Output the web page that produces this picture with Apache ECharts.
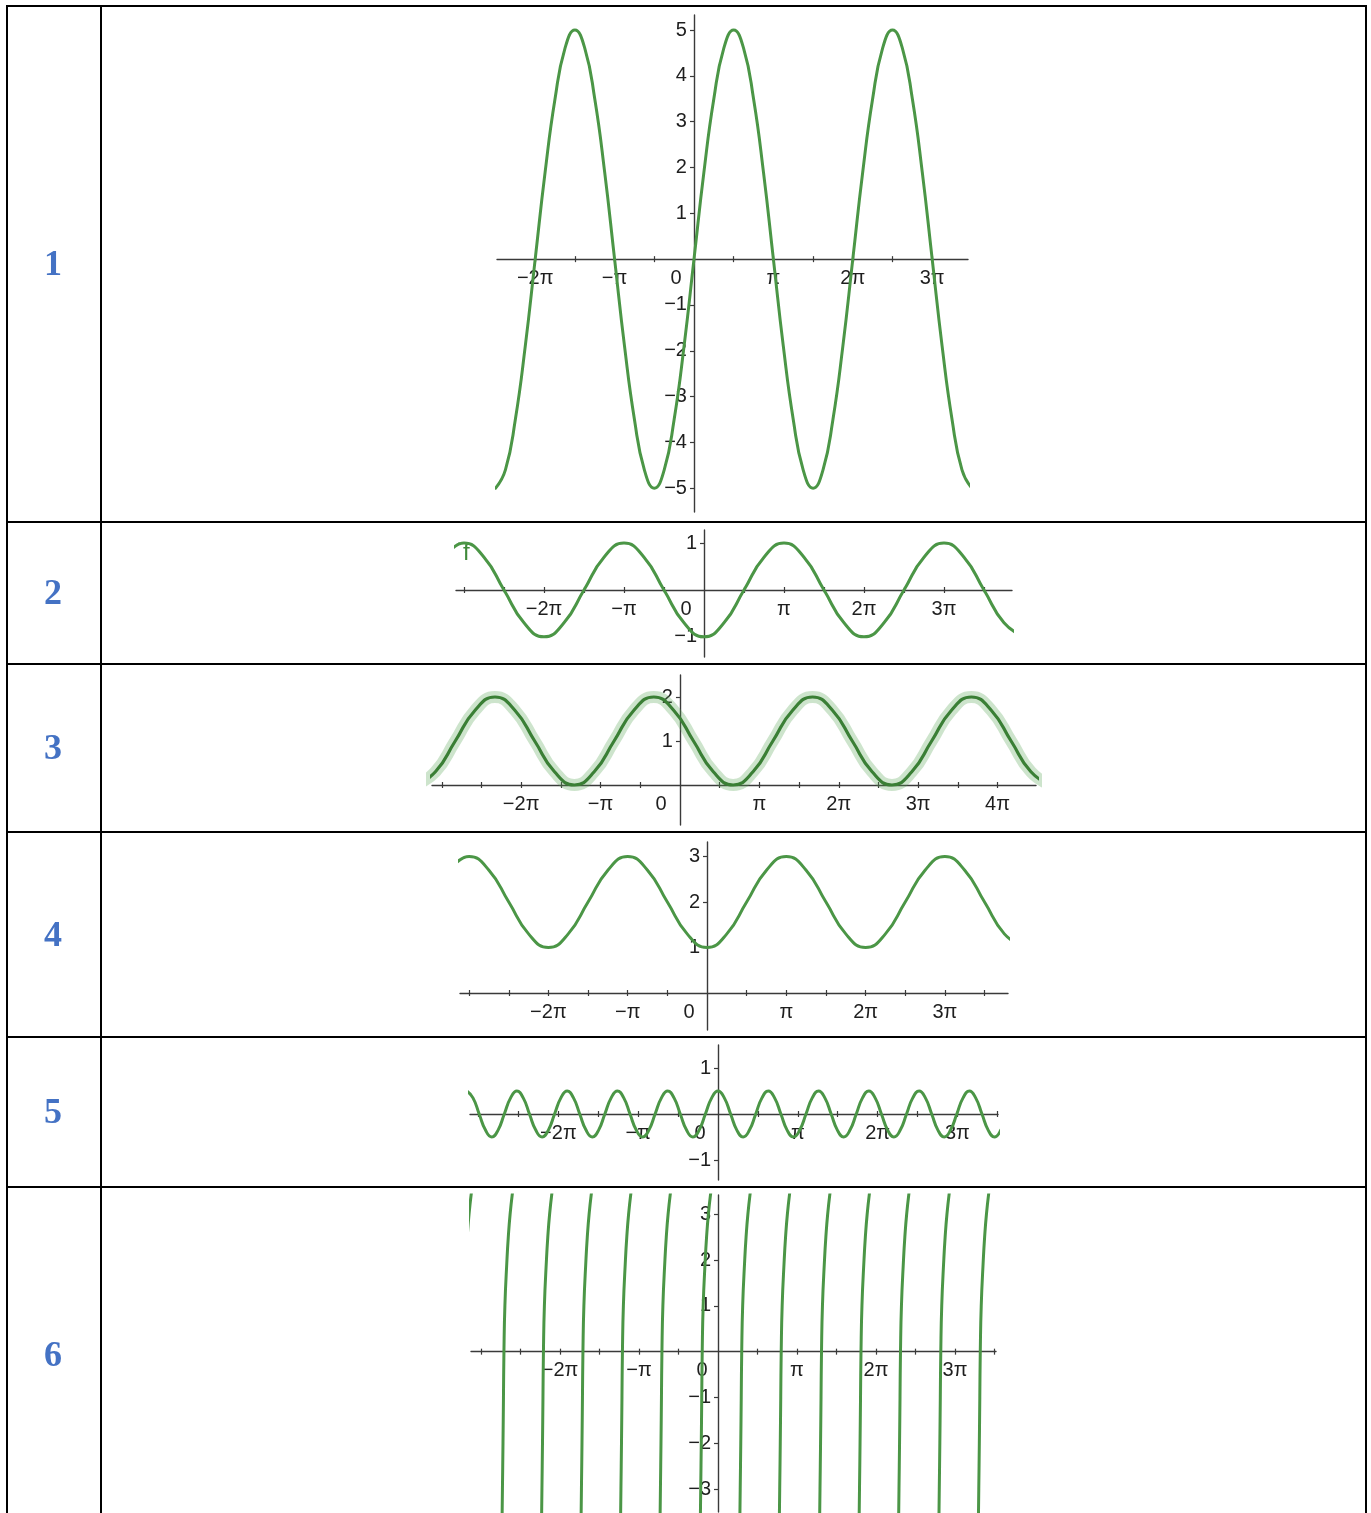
<!DOCTYPE html>
<html><head><meta charset="utf-8">
<script src="https://cdn.jsdelivr.net/npm/echarts@6/dist/echarts.min.js"></script>
<style>html,body{margin:0;padding:0;background:#fff}#c{width:1371px;height:1513px}</style>
</head><body><div id="c"></div>
<script>
// ---- DATA (x in units of π) ----
const rowNumbers = ['1','2','3','4','5','6'];

// Row 1: amplitude 5 wave
const row1X = [-2.5,-2.375,-2.25,-2.125,-2,-1.875,-1.75,-1.625,-1.5,-1.375,-1.25,-1.125,-1,-0.875,-0.75,-0.625,-0.5,-0.375,-0.25,-0.125,0,0.125,0.25,0.375,0.5,0.625,0.75,0.875,1,1.125,1.25,1.375,1.5,1.625,1.75,1.875,2,2.125,2.25,2.375,2.5,2.625,2.75,2.875,3,3.125,3.25,3.375,3.5];
const row1Y = [-5,-4.6,-3.5,-1.9,0,1.9,3.5,4.6,5,4.6,3.5,1.9,0,-1.9,-3.5,-4.6,-5,-4.6,-3.5,-1.9,0,1.9,3.5,4.6,5,4.6,3.5,1.9,0,-1.9,-3.5,-4.6,-5,-4.6,-3.5,-1.9,0,1.9,3.5,4.6,5,4.6,3.5,1.9,0,-1.9,-3.5,-4.6,-5];

// Row 2: wave between -1 and 1, trough at 0
const row2X = [-3.25,-3,-2.75,-2.5,-2.25,-2,-1.75,-1.5,-1.25,-1,-0.75,-0.5,-0.25,0,0.25,0.5,0.75,1,1.25,1.5,1.75,2,2.25,2.5,2.75,3,3.25,3.5,3.75,4];
const row2Y = [0.7,1,0.7,0,-0.7,-1,-0.7,0,0.7,1,0.7,0,-0.7,-1,-0.7,0,0.7,1,0.7,0,-0.7,-1,-0.7,0,0.7,1,0.7,0,-0.7,-1];

// Row 3: wave between 0 and 2, peak near -π/3
const row3X = [-3.33,-3.08,-2.83,-2.58,-2.33,-2.08,-1.83,-1.58,-1.33,-1.08,-0.83,-0.58,-0.33,-0.08,0.17,0.42,0.67,0.92,1.17,1.42,1.67,1.92,2.17,2.42,2.67,2.92,3.17,3.42,3.67,3.92,4.17,4.42,4.67];
const row3Y = [0,0.3,1,1.7,2,1.7,1,0.3,0,0.3,1,1.7,2,1.7,1,0.3,0,0.3,1,1.7,2,1.7,1,0.3,0,0.3,1,1.7,2,1.7,1,0.3,0];

// Row 4: wave between 1 and 3, trough at 0
const row4X = [-3.25,-3,-2.75,-2.5,-2.25,-2,-1.75,-1.5,-1.25,-1,-0.75,-0.5,-0.25,0,0.25,0.5,0.75,1,1.25,1.5,1.75,2,2.25,2.5,2.75,3,3.25,3.5,3.75,4];
const row4Y = [2.7,3,2.7,2,1.3,1,1.3,2,2.7,3,2.7,2,1.3,1,1.3,2,2.7,3,2.7,2,1.3,1,1.3,2,2.7,3,2.7,2,1.3,1];

// Row 5: small fast wave, amplitude 0.5, peak at 0
const row5X = [-3.150,-3.071,-2.993,-2.914,-2.835,-2.756,-2.678,-2.599,-2.520,-2.441,-2.363,-2.284,-2.205,-2.126,-2.048,-1.969,-1.890,-1.811,-1.733,-1.654,-1.575,-1.496,-1.418,-1.339,-1.260,-1.181,-1.103,-1.024,-0.945,-0.866,-0.788,-0.709,-0.630,-0.551,-0.473,-0.394,-0.315,-0.236,-0.158,-0.079,0,0.079,0.158,0.236,0.315,0.394,0.473,0.551,0.630,0.709,0.788,0.866,0.945,1.024,1.103,1.181,1.260,1.339,1.418,1.496,1.575,1.654,1.733,1.811,1.890,1.969,2.048,2.126,2.205,2.284,2.363,2.441,2.520,2.599,2.678,2.756,2.835,2.914,2.993,3.071,3.150,3.229,3.308,3.386,3.465,3.544,3.623];
const row5Y = [0.5,0.35,0,-0.35,-0.5,-0.35,0,0.35,
  0.5,0.35,0,-0.35,-0.5,-0.35,0,0.35,
  0.5,0.35,0,-0.35,-0.5,-0.35,0,0.35,
  0.5,0.35,0,-0.35,-0.5,-0.35,0,0.35,
  0.5,0.35,0,-0.35,-0.5,-0.35,0,0.35,
  0.5,0.35,0,-0.35,-0.5,-0.35,0,0.35,
  0.5,0.35,0,-0.35,-0.5,-0.35,0,0.35,
  0.5,0.35,0,-0.35,-0.5,-0.35,0,0.35,
  0.5,0.35,0,-0.35,-0.5,-0.35,0,0.35,
  0.5,0.35,0,-0.35,-0.5,-0.35,0,0.35,
  0.5,0.35,0,-0.35,-0.5,-0.35,0];

// Row 6: steep branches, x-axis crossings and the shape of one branch
const row6Crossings = [-3.23,-2.71,-2.21,-1.71,-1.21,-0.71,-0.20,0.30,0.80,1.31,1.81,2.31,2.82,3.32];
const row6BranchY  = [-3.7,-3,-2,-1,0,1,2,2.5,3,3.5];
const row6BranchDX = [-0.024,-0.019,-0.012,-0.006,0,0.012,0.038,0.055,0.078,0.11];

// Tick labels (multiples of π) and y tick labels per row
const xLabelsRow = [
  [-2,-1,0,1,2,3],
  [-2,-1,0,1,2,3],
  [-2,-1,0,1,2,3,4],
  [-2,-1,0,1,2,3],
  [-2,-1,0,1,2,3],
  [-2,-1,0,1,2,3]
];
const yLabelsRow = [
  [-5,-4,-3,-2,-1,1,2,3,4,5],
  [-1,1],
  [1,2],
  [1,2,3],
  [-1,1],
  [-3,-2,-1,1,2,3]
];
const xTicksRow = [
  [-2.5,-2,-1.5,-1,-0.5,0.5,1,1.5,2,2.5,3],
  [-3,-2.5,-2,-1.5,-1,-0.5,0.5,1,1.5,2,2.5,3,3.5],
  [-3,-2.5,-2,-1.5,-1,-0.5,0.5,1,1.5,2,2.5,3,3.5,4],
  [-3,-2.5,-2,-1.5,-1,-0.5,0.5,1,1.5,2,2.5,3,3.5],
  [-3,-2.5,-2,-1.5,-1,-0.5,0.5,1,1.5,2,2.5,3,3.5],
  [-3,-2.5,-2,-1.5,-1,-0.5,0.5,1,1.5,2,2.5,3,3.5]
];

// ---- LAYOUT ----
const grids = [
  {left:497, top:15,   width:471, height:497, xMin:-2.481, xMax:3.451, yMin:-5.52, yMax:5.33, zeroPad:36},
  {left:456, top:530,  width:556, height:127, xMin:-3.10,  xMax:3.85,  yMin:-1.43, yMax:1.28, zeroPad:36},
  {left:432, top:675,  width:604, height:150, xMin:-3.123, xMax:4.484, yMin:-0.909,yMax:2.5,  zeroPad:38},
  {left:460, top:842,  width:548, height:188, xMin:-3.115, xMax:3.796, yMin:-0.813,yMax:3.319,zeroPad:36},
  {left:470, top:1045, width:528, height:135, xMin:-3.108, xMax:3.509, yMin:-1.435,yMax:1.5,  zeroPad:36},
  {left:471, top:1195, width:525, height:317, xMin:-3.127, xMax:3.519, yMin:-3.50, yMax:3.42, zeroPad:32}
];

const FONT = '"Liberation Sans", Arial, sans-serif';
const TXT = '#1e1e1e';
const AX = '#3a3a3a';
const GREEN = '#4b9646';

function zip(xs, ys){ return xs.map((x,i)=>[x, ys[i]]); }
function piFmt(v){
  const k = Math.round(v);
  if (k === 0) return '{z|0}';
  const a = Math.abs(k);
  return (k < 0 ? '\u2212' : '') + (a === 1 ? '' : a) + '\u03c0';
}
function numFmt(v){ return v < 0 ? '\u2212' + (-v) : String(v); }

const option = {
  animation:false,
  backgroundColor:'#fff',
  grid:[], xAxis:[], yAxis:[], series:[],
  graphic:[]
};

grids.forEach((g, i) => {
  option.grid.push({left:g.left, top:g.top, width:g.width, height:g.height, containLabel:false, outerBoundsMode:'none'});
  option.xAxis.push({
    type:'value', gridIndex:i, min:g.xMin, max:g.xMax, position:'bottom', offset:0,
    axisLine:{show:true, onZero:false, lineStyle:{color:AX, width:1.4}},
    axisTick:{show:true, customValues:xTicksRow[i], length:3, lineStyle:{color:AX, width:1.2}},
    axisLabel:{show:true, customValues:xLabelsRow[i], formatter:piFmt, margin:9,
      fontSize:20, color:TXT, fontFamily:FONT,
      rich:{z:{padding:[0,g.zeroPad,0,0], fontSize:20, color:TXT, fontFamily:FONT}}},
    splitLine:{show:false}
  });
  option.yAxis.push({
    type:'value', gridIndex:i, min:g.yMin, max:g.yMax, position:'left', offset:0,
    axisLine:{show:true, onZero:false, lineStyle:{color:AX, width:1.4}},
    axisTick:{show:true, customValues:yLabelsRow[i], length:4, lineStyle:{color:AX, width:1.2}},
    axisLabel:{show:true, customValues:yLabelsRow[i], formatter:numFmt, margin:7,
      fontSize:20, color:TXT, fontFamily:FONT},
    splitLine:{show:false}
  });
});
// second x axis per grid: only the upward half of the crossing ticks
grids.forEach((g, i) => {
  option.xAxis.push({
    type:'value', gridIndex:i, min:g.xMin, max:g.xMax, position:'bottom', offset:0,
    axisLine:{show:false, onZero:false},
    axisTick:{show:true, inside:true, customValues:xTicksRow[i], length:3, lineStyle:{color:AX, width:1.2}},
    axisLabel:{show:false},
    splitLine:{show:false}
  });
});

function lineSeries(i, data, color, width, z){
  return {type:'line', xAxisIndex:i, yAxisIndex:i, data:data, showSymbol:false, smooth:true,
    clip:true, silent:true, z:z||3, lineStyle:{color:color, width:width, cap:'round', join:'round'}};
}

option.series.push(lineSeries(0, zip(row1X,row1Y), GREEN, 3));
option.series.push(lineSeries(1, zip(row2X,row2Y), GREEN, 3));
option.series.push(lineSeries(2, zip(row3X,row3Y), 'rgba(90,165,85,0.30)', 12, 2));
option.series.push(lineSeries(2, zip(row3X,row3Y), '#3a7f35', 3.2));
option.series.push(lineSeries(3, zip(row4X,row4Y), GREEN, 3));
option.series.push(lineSeries(4, zip(row5X,row5Y), GREEN, 3));
row6Crossings.forEach(c => {
  const pts = row6BranchY.map((y,j)=>[c + row6BranchDX[j], y]);
  option.series.push(lineSeries(5, pts, GREEN, 3));
});

// ---- TABLE FRAME + ROW NUMBERS ----
const hLines = [6, 522, 664, 832, 1037, 1187];
hLines.forEach(y => option.graphic.push({type:'line', silent:true,
  shape:{x1:7, y1:y, x2:1366, y2:y}, style:{stroke:'#000', lineWidth:2}}));
[7, 101, 1366].forEach(x => option.graphic.push({type:'line', silent:true,
  shape:{x1:x, y1:5, x2:x, y2:1513}, style:{stroke:'#000', lineWidth:2}}));
const numY = [266, 595, 750, 937, 1114, 1357];
rowNumbers.forEach((t, i) => option.graphic.push({type:'text', silent:true, x:53, y:numY[i],
  style:{text:t, fill:'#4472C4', font:'bold 36px "Liberation Serif", "Times New Roman", serif',
    align:'center', verticalAlign:'middle', textAlign:'center', textVerticalAlign:'middle'}}));
// function name label in row 2
option.graphic.push({type:'text', silent:true, x:455, y:553,
  style:{text:'\u00b4f', fill:'#3f8a3a', font:'24px "Liberation Sans", Arial, sans-serif',
    align:'left', verticalAlign:'middle', textAlign:'left', textVerticalAlign:'middle'}});

const chart = echarts.init(document.getElementById('c'), null, {renderer:'canvas', width:1371, height:1513});
chart.setOption(option);

// Move each pair of axes so that they cross at the origin (positions from the library's own scales)
const xUpd = [], yUpd = [];
grids.forEach((g, i) => {
  const origin = chart.convertToPixel({xAxisIndex:i, yAxisIndex:i}, [0, 0]);
  const bottom = chart.convertToPixel({yAxisIndex:i}, g.yMin);
  const left = chart.convertToPixel({xAxisIndex:i}, g.xMin);
  xUpd[i] = {offset: origin[1] - bottom};
  xUpd[i + grids.length] = {offset: origin[1] - bottom};
  yUpd[i] = {offset: left - origin[0]};
});
chart.setOption({xAxis:xUpd, yAxis:yUpd});
</script>
</body></html>
